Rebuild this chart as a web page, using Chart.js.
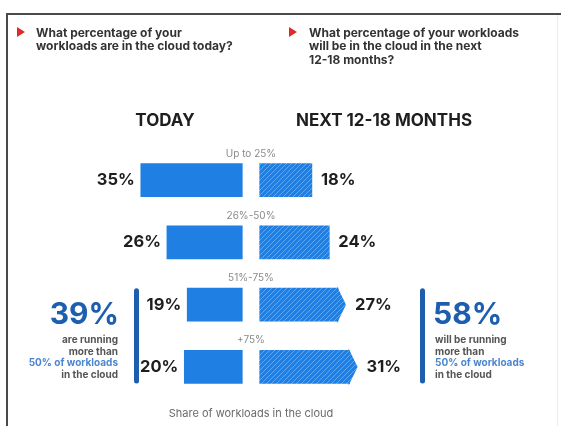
<!DOCTYPE html>
<html>
<head>
<meta charset="utf-8">
<script src="https://cdn.jsdelivr.net/npm/chart.js@4/dist/chart.umd.min.js"></script>
<style>
  html, body { margin: 0; padding: 0; background: #fff; }
  canvas { display: block; }
</style>
</head>
<body>
<canvas id="chart" width="561" height="426"></canvas>
<script>
// --- data ---
const categories = ['Up to 25%', '26%-50%', '51%-75%', '+75%'];
const todayValues = [35, 26, 19, 20];
const nextValues = [18, 24, 27, 31];
const arrowRows = [false, false, true, true];
const seriesNames = ['TODAY', 'NEXT 12-18 MONTHS'];
const todayShare = '39%';
const nextShare = '58%';

const GAP = 3; // empty space either side of the centre line, in axis units
const BLUE = '#1f7fe2';
const DARK_BLUE = '#1d5fae';
const FONT = 'Inter, "Liberation Sans", sans-serif';

// diagonal hatch for the "next" bars
function makeHatch() {
    const c = document.createElement('canvas');
    c.width = 5; c.height = 5;
    const g = c.getContext('2d');
    g.fillStyle = BLUE;
    g.fillRect(0, 0, 5, 5);
    g.strokeStyle = '#63a6ee';
    g.lineWidth = 1;
    g.beginPath();
    g.moveTo(0, 5); g.lineTo(5, 0);
    g.moveTo(-1, 1); g.lineTo(1, -1);
    g.moveTo(4, 6); g.lineTo(6, 4);
    g.stroke();
    return g.createPattern(c, 'repeat');
}
const hatch = makeHatch();

function text(ctx, str, x, y, font, color, align) {
    ctx.font = font;
    ctx.fillStyle = color;
    ctx.textAlign = align || 'left';
    ctx.textBaseline = 'middle';
    ctx.fillText(str, x, y);
}

function triangle(ctx, x, y) {
    ctx.fillStyle = '#e02b2b';
    ctx.beginPath();
    ctx.moveTo(x, y - 5);
    ctx.lineTo(x + 8, y);
    ctx.lineTo(x, y + 5);
    ctx.closePath();
    ctx.fill();
}

const overlay = {
    id: 'overlay',
    afterDatasetsDraw(chart) {
        const ctx = chart.ctx;
        const todayBars = chart.getDatasetMeta(0).data;
        const nextBars = chart.getDatasetMeta(1).data;
        const zeroX = chart.scales.x.getPixelForValue(0);
        ctx.save();

        // arrow heads on the last two rows
        nextBars.forEach((bar, i) => {
            if (!arrowRows[i]) return;
            const end = Math.max(bar.x, bar.base);
            const h = bar.height / 2;
            ctx.fillStyle = hatch;
            ctx.beginPath();
            ctx.moveTo(end - 1, bar.y - h - 2);
            ctx.lineTo(end + 8, bar.y);
            ctx.lineTo(end - 1, bar.y + h + 2);
            ctx.closePath();
            ctx.fill();
        });

        // category names and value labels
        const valueFont = 'bold 16.5px ' + FONT;
        todayBars.forEach((bar, i) => {
            const left = Math.min(bar.x, bar.base);
            const top = bar.y - bar.height / 2;
            text(ctx, categories[i], zeroX, top - 10, '10px ' + FONT, '#8a8a8a', 'center');
            text(ctx, todayValues[i] + '%', left - 6, bar.y, valueFont, '#1e1e1e', 'right');
        });
        nextBars.forEach((bar, i) => {
            const right = Math.max(bar.x, bar.base) + (arrowRows[i] ? 8 : 0);
            text(ctx, nextValues[i] + '%', right + 9, bar.y, valueFont, '#1e1e1e', 'left');
        });

        // side call-outs for the "more than 50%" rows
        const top3 = todayBars[2].y - todayBars[2].height / 2;
        const bot4 = todayBars[3].y + todayBars[3].height / 2;
        ctx.fillStyle = DARK_BLUE;
        [134, 420].forEach(x => {
            ctx.beginPath();
            ctx.roundRect(x, top3, 5, bot4 - top3, 2.5);
            ctx.fill();
        });

        const big = 'bold 30px ' + FONT;
        const small = 'bold 10px ' + FONT;
        text(ctx, todayShare, 119, 315, big, DARK_BLUE, 'right');
        text(ctx, 'are running', 118, 340, small, '#555', 'right');
        text(ctx, 'more than', 118, 351.5, small, '#555', 'right');
        text(ctx, '50% of workloads', 118, 363, small, '#4a86cf', 'right');
        text(ctx, 'in the cloud', 118, 374.5, small, '#555', 'right');

        text(ctx, nextShare, 433, 315, big, DARK_BLUE, 'left');
        text(ctx, 'will be running', 435, 340, small, '#555', 'left');
        text(ctx, 'more than', 435, 351.5, small, '#555', 'left');
        text(ctx, '50% of workloads', 435, 363, small, '#4a86cf', 'left');
        text(ctx, 'in the cloud', 435, 374.5, small, '#555', 'left');

        // column headings and footer
        text(ctx, seriesNames[0], 165, 121, 'bold 17px ' + FONT, '#1e1e1e', 'center');
        text(ctx, seriesNames[1], 384, 121, 'bold 17px ' + FONT, '#1e1e1e', 'center');
        text(ctx, 'Share of workloads in the cloud', zeroX, 414, '11px ' + FONT, '#6a6a6a', 'center');

        // questions at the top
        const q = 'bold 12px ' + FONT;
        triangle(ctx, 17, 32);
        text(ctx, 'What percentage of your', 36, 33, q, '#333', 'left');
        text(ctx, 'workloads are in the cloud today?', 36, 46.5, q, '#333', 'left');
        triangle(ctx, 289, 32);
        text(ctx, 'What percentage of your workloads', 309, 33, q, '#333', 'left');
        text(ctx, 'will be in the cloud in the next', 309, 46.5, q, '#333', 'left');
        text(ctx, '12-18 months?', 309, 60, q, '#333', 'left');

        // frame
        ctx.strokeStyle = '#4a4a4a';
        ctx.lineWidth = 2;
        ctx.beginPath();
        ctx.moveTo(7, 426);
        ctx.lineTo(7, 14);
        ctx.lineTo(561, 14);
        ctx.stroke();
        ctx.strokeStyle = '#ececec';
        ctx.lineWidth = 1;
        ctx.beginPath();
        ctx.moveTo(557.5, 15);
        ctx.lineTo(557.5, 426);
        ctx.stroke();

        ctx.restore();
    }
};

new Chart(document.getElementById('chart'), {
    type: 'bar',
    data: {
        labels: categories,
        datasets: [
            {
                label: seriesNames[0],
                data: todayValues.map(v => [-GAP - v, -GAP]),
                backgroundColor: BLUE,
                grouped: false,
                barThickness: 33
            },
            {
                label: seriesNames[1],
                data: nextValues.map(v => [GAP, GAP + v]),
                backgroundColor: hatch,
                grouped: false,
                barThickness: 33
            }
        ]
    },
    options: {
        indexAxis: 'y',
        responsive: false,
        animation: false,
        layout: { padding: { left: 77, right: 136, top: 149, bottom: 28 } },
        scales: {
            x: { display: false, min: -60, max: 60 },
            y: { display: false }
        },
        plugins: {
            legend: { display: false },
            tooltip: { enabled: false }
        }
    },
    plugins: [overlay]
});
</script>
</body>
</html>
